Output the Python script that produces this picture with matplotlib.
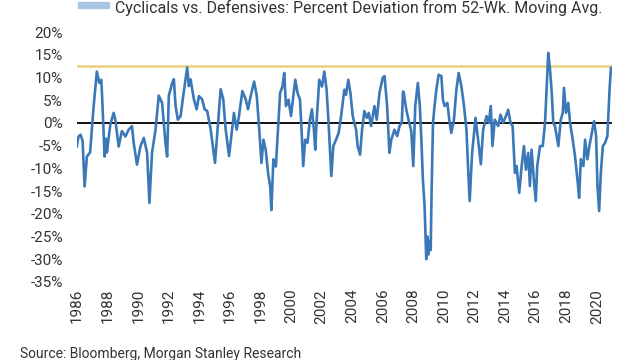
import matplotlib
matplotlib.use("Agg")
import matplotlib.pyplot as plt

plt.rcParams['font.family'] = ['Roboto', 'DejaVu Sans']

# Cyclicals vs. Defensives, % deviation from 52-wk moving average
years = [
    1985.98, 1986.09, 1986.23, 1986.36, 1986.49, 1986.64, 1986.85, 1987.08, 1987.29, 1987.45,
    1987.58, 1987.62, 1987.80, 1987.89, 1987.95, 1988.17, 1988.39, 1988.50, 1988.72, 1988.93,
    1989.16, 1989.37, 1989.59, 1989.70, 1989.92, 1990.14, 1990.36, 1990.58, 1990.73, 1990.90,
    1991.13, 1991.34, 1991.56, 1991.78, 1991.89, 1992.00, 1992.22, 1992.33, 1992.44, 1992.59,
    1992.77, 1992.94, 1993.20, 1993.31, 1993.42, 1993.64, 1993.82, 1993.97, 1994.18, 1994.34,
    1994.51, 1994.74, 1994.91, 1995.02, 1995.17, 1995.39, 1995.56, 1995.72, 1995.94, 1996.09,
    1996.26, 1996.44, 1996.59, 1996.81, 1997.03, 1997.18, 1997.36, 1997.58, 1997.75, 1997.90,
    1998.06, 1998.19, 1998.34, 1998.50, 1998.63, 1998.71, 1998.84, 1999.00, 1999.15, 1999.28,
    1999.43, 1999.55, 1999.66, 1999.83, 1999.99, 2000.14, 2000.27, 2000.42, 2000.58, 2000.66,
    2000.79, 2000.92, 2001.07, 2001.23, 2001.36, 2001.49, 2001.58, 2001.66, 2001.84, 2002.02,
    2002.17, 2002.32, 2002.45, 2002.54, 2002.63, 2002.76, 2002.94, 2003.11, 2003.27, 2003.48,
    2003.59, 2003.74, 2003.88, 2004.03, 2004.25, 2004.35, 2004.51, 2004.64, 2004.79, 2004.95,
    2005.08, 2005.23, 2005.45, 2005.60, 2005.78, 2005.89, 2006.00, 2006.11, 2006.28, 2006.43,
    2006.55, 2006.76, 2006.94, 2007.09, 2007.24, 2007.32, 2007.37, 2007.53, 2007.68, 2007.86,
    2007.99, 2008.12, 2008.29, 2008.42, 2008.52, 2008.62, 2008.73, 2008.84, 2008.91, 2008.97,
    2009.06, 2009.13, 2009.19, 2009.28, 2009.39, 2009.50, 2009.65, 2009.83, 2009.93, 2010.04,
    2010.22, 2010.37, 2010.48, 2010.65, 2010.81, 2010.96, 2011.14, 2011.31, 2011.47, 2011.57,
    2011.68, 2011.84, 2011.97, 2012.06, 2012.23, 2012.41, 2012.56, 2012.78, 2012.93, 2013.06,
    2013.17, 2013.32, 2013.54, 2013.70, 2013.87, 2014.05, 2014.20, 2014.35, 2014.49, 2014.64,
    2014.75, 2014.92, 2015.08, 2015.23, 2015.36, 2015.51, 2015.62, 2015.73, 2015.88, 2016.00,
    2016.10, 2016.28, 2016.46, 2016.61, 2016.72, 2016.82, 2016.93, 2017.05, 2017.15, 2017.26,
    2017.48, 2017.64, 2017.77, 2017.85, 2017.98, 2018.13, 2018.25, 2018.42, 2018.57, 2018.73,
    2018.84, 2018.95, 2019.12, 2019.23, 2019.38, 2019.51, 2019.67, 2019.82, 2019.95, 2020.04,
    2020.15, 2020.26, 2020.39, 2020.54, 2020.69, 2020.83, 2020.92, 2020.98,
]
deviation = [
    -5.2, -3.0, -2.6, -4.0, -14.0, -7.4, -6.5, 3.6, 11.3, 8.8,
    9.5, 7.0, -7.4, -3.5, -6.5, -0.4, 2.2, 0.7, -5.2, -1.8,
    -3.0, -1.5, -0.7, -4.4, -9.2, -5.2, -3.3, -6.6, -17.6, -6.6,
    -1.5, 6.0, 4.4, -4.4, -7.4, 6.0, 8.8, 9.6, 3.7, 0.7,
    1.5, 5.9, 12.2, 8.1, 9.6, 5.2, 3.0, 5.9, 5.2, 3.0,
    2.6, -1.5, -6.0, -8.8, -2.2, 7.4, 5.2, -1.5, -7.3, -2.9,
    2.2, -1.5, 1.5, 7.0, 5.2, 3.0, 6.0, 9.1, 6.0, -0.7,
    -8.8, -3.7, -6.0, -11.2, -14.0, -19.2, -8.0, -9.6, -0.7, 6.6,
    8.0, 11.0, 3.7, 5.1, 1.5, 5.9, 9.5, 6.6, 5.1, 0.0,
    -9.5, -3.7, -4.4, 0.7, 3.0, -1.5, -5.9, 0.0, 9.5, 8.0,
    11.3, 7.3, 0.0, -5.9, -11.7, -5.1, -3.7, -2.2, 1.5, 7.3,
    6.2, 9.5, 6.6, 1.5, -1.5, -5.1, -7.0, -1.5, 2.6, 1.1,
    2.2, -0.7, 3.7, 0.7, 6.6, 8.4, 10.0, 10.3, 3.7, -6.6,
    -3.7, -1.5, -2.9, -0.7, 0.0, 6.9, 6.6, 3.0, 0.7, -1.8,
    -9.5, 3.7, 8.8, 3.7, -3.7, -12.5, -18.3, -30.0, -25.0, -29.0,
    -26.0, -28.0, -15.0, 0.0, 4.0, 7.3, 10.6, 10.3, 5.1, 3.7,
    4.4, 0.0, -2.2, 0.7, 7.3, 11.0, 8.0, 3.7, -1.5, -9.5,
    -17.2, -6.6, -2.2, 1.1, -3.7, -9.1, -1.5, 1.5, 0.0, 3.7,
    -5.1, 0.7, -0.7, 1.8, 0.0, 1.5, 2.9, 0.0, -0.7, -11.0,
    -9.5, -15.4, -9.5, -5.1, -10.3, -6.6, -13.9, -5.9, -12.5, -17.2,
    -9.5, -5.1, -5.1, 0.0, 8.0, 15.4, 12.0, 6.6, 0.0, -0.7,
    -5.1, 0.7, 2.2, 7.7, 2.2, 4.4, 0.0, -3.7, -7.3, -12.5,
    -16.5, -8.0, -9.5, -3.7, -8.0, -5.1, -2.2, 0.4, -2.9, -13.9,
    -19.4, -11.0, -5.1, -4.4, -2.9, 7.3, 12.1, 12.0,
]
threshold = 12.6
year_ticks = list(range(1986, 2021, 2))
pct_ticks = list(range(-35, 21, 5))

fig = plt.figure(figsize=(6.4, 3.6), dpi=100)
ax = fig.add_axes([0.120, 0.217, 0.836, 0.694])

ax.plot(years, deviation, color='#3b78b8', lw=1.9, zorder=3)
ax.plot([years[0], years[-1]], [0, 0], color='black', lw=1.3, zorder=2)
ax.plot([years[0], years[-1]], [threshold, threshold], color='#e6cf7f', lw=1.8, zorder=2)

ax.set_xlim(years[0], years[-1])
ax.set_ylim(-35, 20)
ax.set_xticks(year_ticks)
ax.set_xticklabels([str(y) for y in year_ticks], rotation=90)
ax.set_yticks(pct_ticks)
ax.set_yticklabels([f"{v}%" for v in pct_ticks])
ax.tick_params(length=0, labelsize=11, colors='#333333')
ax.tick_params(axis='y', pad=10)
ax.tick_params(axis='x', pad=5)
for s in ax.spines.values():
    s.set_visible(False)

# legend strip at the top edge
fig.patches.append(plt.Rectangle((78 / 640, 1 - 8 / 360), 31 / 640, 6 / 360,
                                 transform=fig.transFigure, color='#a9c4e4'))
fig.text(115 / 640, 1.0, "Cyclicals vs. Defensives: Percent Deviation from 52-Wk. Moving Avg.",
         fontsize=11.5, color='#333333', va='top', ha='left')

fig.text(20 / 640, 6 / 360, "Source: Bloomberg, Morgan Stanley Research",
         fontsize=10, color='#333333', va='center', ha='left')

fig.savefig("out.png", dpi=100)
